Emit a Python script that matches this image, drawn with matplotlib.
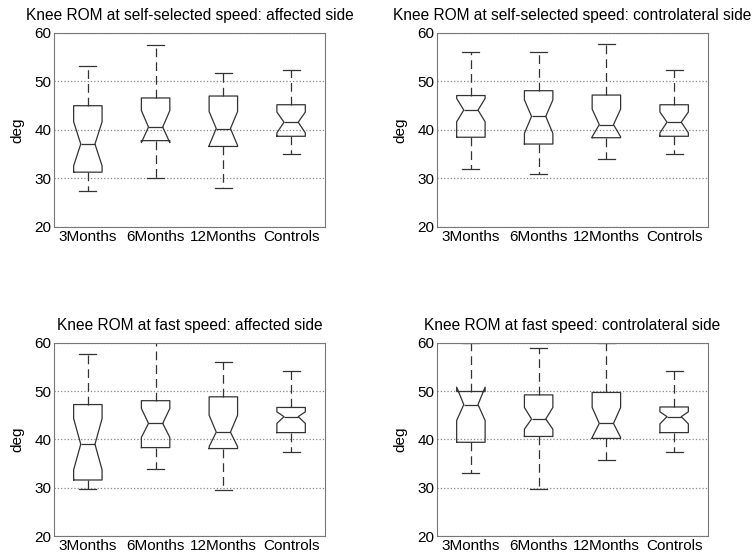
import matplotlib.pyplot as plt

plt.rcParams['font.family'] = ['Liberation Sans', 'DejaVu Sans']

groups = ["3Months", "6Months", "12Months", "Controls"]
titles = ["Knee ROM at self-selected speed: affected side",
          "Knee ROM at self-selected speed: controlateral side",
          "Knee ROM at fast speed: affected side",
          "Knee ROM at fast speed: controlateral side"]

# per panel, per group: whislo, q1, cilo, med, cihi, q3, whishi
ss_affected = [
    [27.4, 31.3, 32.6, 37.1, 41.7, 45.0, 53.1],
    [30.0, 37.8, 37.4, 40.6, 44.0, 46.6, 57.6],
    [28.1, 36.6, 36.8, 40.3, 43.8, 47.0, 51.7],
    [35.1, 38.7, 39.4, 41.6, 43.7, 45.2, 52.3],
]
ss_contra = [
    [31.9, 38.5, 41.7, 44.1, 46.5, 47.1, 56.1],
    [30.9, 37.1, 39.3, 42.8, 46.2, 48.1, 56.0],
    [34.1, 38.4, 38.6, 41.1, 44.3, 47.2, 57.8],
    [35.1, 38.7, 39.4, 41.6, 43.7, 45.2, 52.3],
]
fast_affected = [
    [29.7, 31.6, 33.7, 39.0, 44.3, 47.2, 57.7],
    [33.9, 38.3, 40.4, 43.3, 46.4, 48.0, 61.0],
    [29.5, 38.1, 38.5, 41.5, 45.0, 48.8, 55.9],
    [37.4, 41.4, 43.3, 44.7, 45.7, 46.6, 54.1],
]
fast_contra = [
    [33.1, 39.4, 43.9, 47.2, 50.8, 49.9, 60.0],
    [29.7, 40.6, 42.1, 44.2, 46.6, 49.2, 58.8],
    [35.7, 40.2, 40.4, 43.3, 46.6, 49.7, 60.0],
    [37.4, 41.4, 43.2, 44.7, 45.7, 46.7, 54.1],
]
panels = [ss_affected, ss_contra, fast_affected, fast_contra]

fig = plt.figure(figsize=(7.54, 5.59), dpi=100)
positions = [[0.0716, 0.594, 0.3594, 0.347],
             [0.5796, 0.594, 0.3594, 0.347],
             [0.0716, 0.041, 0.3594, 0.346],
             [0.5796, 0.041, 0.3594, 0.346]]

for pos, title, data in zip(positions, titles, panels):
    ax = fig.add_axes(pos)
    stats = []
    for name, v in zip(groups, data):
        stats.append(dict(label=name, whislo=v[0], q1=v[1], cilo=v[2], med=v[3],
                          cihi=v[4], q3=v[5], whishi=v[6], fliers=[]))
    ax.bxp(stats, shownotches=True, widths=0.42, capwidths=0.25,
           boxprops=dict(color='#333333', linewidth=0.9),
           medianprops=dict(color='#333333', linewidth=0.9),
           whiskerprops=dict(color='#333333', linewidth=0.9, linestyle=(0, (7, 4))),
           capprops=dict(color='#333333', linewidth=0.9))
    ax.set_ylim(20, 60)
    ax.set_xlim(0.5, 4.5)
    ax.set_yticks([20, 30, 40, 50, 60])
    ax.set_xticks([1, 2, 3, 4])
    ax.set_xticklabels(groups)
    ax.yaxis.grid(True, linestyle=':', color='#888888', linewidth=0.9)
    ax.set_axisbelow(True)
    ax.tick_params(length=0, labelsize=11, pad=2)
    ax.set_ylabel("deg", fontsize=11, labelpad=7)
    ax.set_title(title, fontsize=11.2, pad=9)
    for s in ax.spines.values():
        s.set_color('#777777')

plt.savefig("out.png", dpi=100)
